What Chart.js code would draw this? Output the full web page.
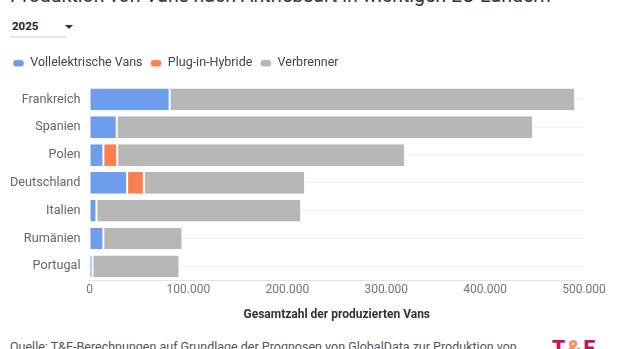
<!DOCTYPE html>
<html lang="de">
<head>
<meta charset="utf-8">
<script src="https://cdn.jsdelivr.net/npm/chart.js@4.4.1/dist/chart.umd.min.js"></script>
<style>
  html, body { margin:0; padding:0; background:#fff; }
  body { width:620px; height:349px; overflow:hidden; position:relative; font-family: Roboto, "Noto Sans", sans-serif; }
  #title { position:absolute; left:10px; top:-16.5px; font-size:19.5px; color:#333; white-space:nowrap; }
  #dd { position:absolute; left:10px; top:16px; width:56px; height:20px; border-bottom:2px solid #e6e6e6; }
  #dd span { position:absolute; left:2px; top:3px; font-size:11.5px; font-weight:bold; color:#222; }
  #dd i { position:absolute; left:55px; top:9px; width:0; height:0; border-left:4px solid transparent; border-right:4px solid transparent; border-top:4px solid #333; }
  #wrap { position:absolute; left:0; top:49px; width:620px; height:273px; }
  #src { position:absolute; left:10px; top:339px; font-size:12.5px; color:#555; white-space:nowrap; }
  #logo { position:absolute; left:552px; top:336px; font-size:21px; font-weight:900; color:#c2185b; letter-spacing:2px; }
  #logo b { color:#ff8a65; }
</style>
</head>
<body>
<div id="title">Produktion von Vans nach Antriebsart in wichtigen EU-Ländern</div>
<div id="dd"><span>2025</span><i></i></div>
<div id="wrap"><canvas id="c"></canvas></div>
<div id="src">Quelle: T&amp;E-Berechnungen auf Grundlage der Prognosen von GlobalData zur Produktion von</div>
<div id="logo">T<b>&amp;</b>E</div>
<script>
const categories = ["Frankreich", "Spanien", "Polen", "Deutschland", "Italien", "Rumänien", "Portugal"];
const seriesNames = ["Vollelektrische Vans", "Plug-in-Hybride", "Verbrenner"];
const bev  = [81000, 27500, 14000, 38000, 7000, 14000, 3000];
const phev = [0, 0, 14000, 17000, 0, 0, 0];
const ice  = [410000, 421000, 291000, 163000, 207000, 80000, 88000];
const xTicks = [0, 100000, 200000, 300000, 400000, 500000];
const colors = ["#6d9eeb", "#ff7f4f", "#b7b7b7"];

function fmt(v) { return String(v).replace(/\B(?=(\d{3})+(?!\d))/g, "."); }

const seriesData = [bev, phev, ice];
const datasets = seriesNames.map((n, i) => ({
  label: n,
  data: seriesData[i],
  backgroundColor: colors[i],
  borderColor: "#ffffff",
  borderWidth: {left: 1, right: 1, top: 0, bottom: 0},
  borderSkipped: false,
  barPercentage: 0.78,
  categoryPercentage: 1.0
}));

const legendGap = {
  id: "legendGap",
  beforeInit(chart) {
    const orig = chart.legend.fit;
    chart.legend.fit = function () { orig.bind(chart.legend)(); this.height += 6; };
  }
};

new Chart(document.getElementById("c"), {
  type: "bar",
  data: { labels: categories, datasets },
  plugins: [legendGap],
  options: {
    indexAxis: "y",
    responsive: true,
    maintainAspectRatio: false,
    animation: false,
    layout: { padding: { left: 5, right: 36, top: 0, bottom: 0 } },
    plugins: {
      legend: {
        position: "top",
        align: "start",
        labels: {
          boxWidth: 11, boxHeight: 7, useBorderRadius: true, borderRadius: 3,
          color: "#444", font: { family: "Roboto", size: 12.5 }, padding: 8
        }
      },
      tooltip: { enabled: false }
    },
    scales: {
      x: {
        stacked: true,
        min: 0, max: 500000,
        afterBuildTicks: (ax) => { ax.ticks = xTicks.map(v => ({ value: v })); },
        ticks: { color: "#757575", font: { family: "Roboto", size: 12 }, callback: v => fmt(v), padding: 3, maxRotation: 0 },
        grid: { display: false, drawTicks: false },
        border: { display: true, color: "#e3e3e3" },
        title: { display: true, text: "Gesamtzahl der produzierten Vans", color: "#333", font: { family: "Roboto", size: 12, weight: "bold" }, padding: { top: 7, bottom: 0 } }
      },
      y: {
        stacked: true,
        ticks: { color: "#666", font: { family: "Roboto", size: 12.7 }, padding: 5 },
        grid: { color: "#eeeeee", offset: false, tickLength: 4, drawOnChartArea: true },
        border: { display: false }
      }
    }
  }
});
</script>
</body>
</html>
